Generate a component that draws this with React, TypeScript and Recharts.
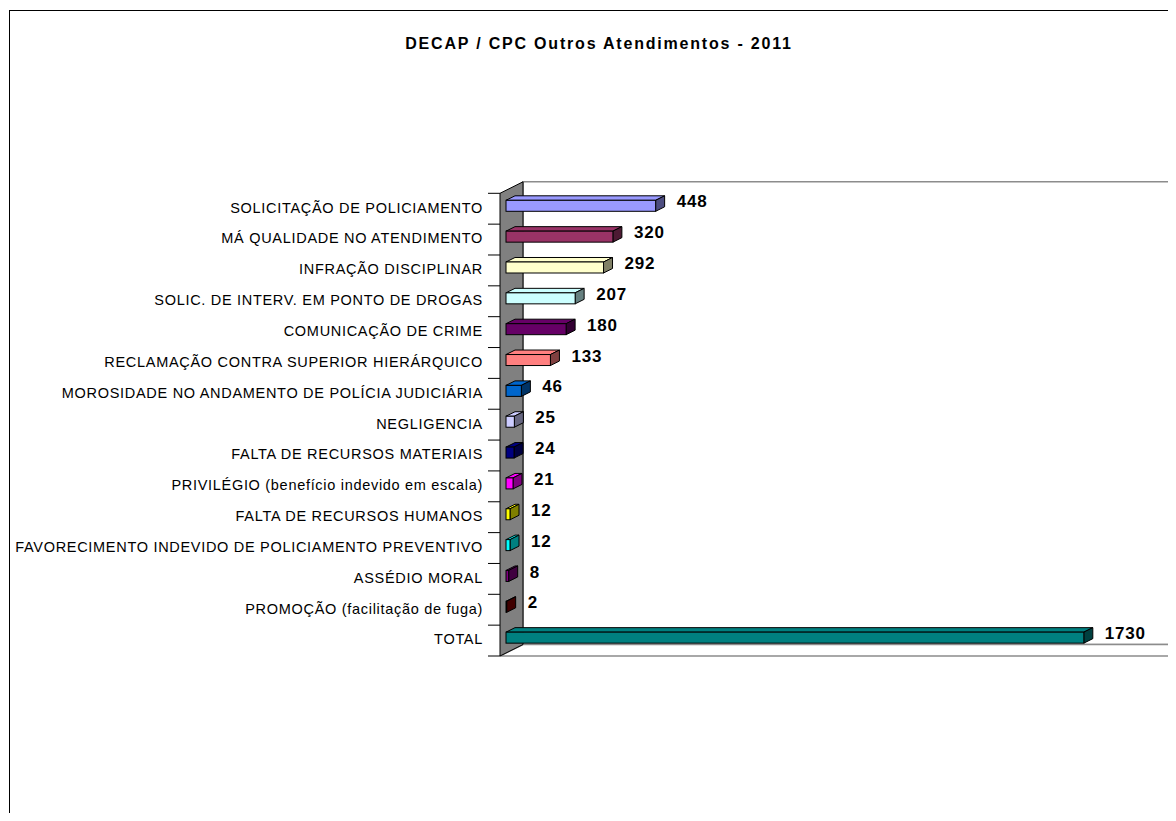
import React from 'react';
import { BarChart, Bar, XAxis, YAxis, Cell, LabelList } from 'recharts';

const categories = [
  'SOLICITAÇÃO DE POLICIAMENTO',
  'MÁ QUALIDADE NO ATENDIMENTO',
  'INFRAÇÃO DISCIPLINAR',
  'SOLIC. DE INTERV. EM PONTO DE DROGAS',
  'COMUNICAÇÃO DE CRIME',
  'RECLAMAÇÃO CONTRA SUPERIOR HIERÁRQUICO',
  'MOROSIDADE NO ANDAMENTO DE POLÍCIA JUDICIÁRIA',
  'NEGLIGENCIA',
  'FALTA DE RECURSOS MATERIAIS',
  'PRIVILÉGIO (benefício indevido em escala)',
  'FALTA DE RECURSOS HUMANOS',
  'FAVORECIMENTO INDEVIDO DE POLICIAMENTO PREVENTIVO',
  'ASSÉDIO MORAL',
  'PROMOÇÃO (facilitação de fuga)',
  'TOTAL',
];

const values = [448, 320, 292, 207, 180, 133, 46, 25, 24, 21, 12, 12, 8, 2, 1730];

const colors = [
  '#9999FF', '#993366', '#FFFFCC', '#CCFFFF', '#660066',
  '#FF8080', '#0066CC', '#CCCCFF', '#000080', '#FF00FF',
  '#FFFF00', '#00FFFF', '#800080', '#800000', '#008080',
];

const title = 'DECAP / CPC Outros Atendimentos - 2011';
const xDomain = [0, 2000];

const rows = categories.map((name, i) => ({ name, value: values[i] }));

// layout constants
const W = 1168;
const H = 805;
const BG_H = 813;
const PLOT_LEFT = 492;
const PLOT_TOP = 185.3;
const PLOT_W = 668;
const PLOT_H = 462.7;
const WALL_DX = 23;
const WALL_DY = -11.5;
const BAR_D0X = 6, BAR_D0Y = -3;
const BAR_D1X = 15, BAR_D1Y = -7.5;
const BAND = PLOT_H / categories.length;
const FONT = '"Liberation Sans", Arial, Helvetica, sans-serif';

function darken(hex: string, f: number) {
  const n = parseInt(hex.slice(1), 16);
  const r = Math.round(((n >> 16) & 255) * f);
  const g = Math.round(((n >> 8) & 255) * f);
  const b = Math.round((n & 255) * f);
  return `rgb(${r},${g},${b})`;
}

const Box3D = (props: any) => {
  const { x, y, width, height, index } = props;
  const fill = colors[index] || props.fill;
  const w = Math.max(width, 0);
  const fx = x + BAR_D0X, fy = y + BAR_D0Y;
  const bx = x + BAR_D1X, by = y + BAR_D1Y;
  const top = `${fx},${fy} ${fx + w},${fy} ${bx + w},${by} ${bx},${by}`;
  const side = `${fx + w},${fy} ${bx + w},${by} ${bx + w},${by + height} ${fx + w},${fy + height}`;
  return (
    <g>
      <polygon points={top} fill={fill} stroke="#000" strokeWidth={1} strokeLinejoin="round" />
      <polygon points={side} fill={darken(fill, 0.5)} stroke="#000" strokeWidth={1} strokeLinejoin="round" />
      <rect x={fx} y={fy} width={w} height={height} fill={fill} stroke="#000" strokeWidth={1} />
    </g>
  );
};

const ValueLabel = (props: any) => {
  const { x, y, width, value } = props;
  return (
    <text
      x={x + width + BAR_D1X + 12}
      y={y + 4.1}
      fontFamily={FONT}
      fontWeight="bold"
      fontSize={17}
      style={{ letterSpacing: 0.8 }}
      fill="#000"
    >
      {value}
    </text>
  );
};

const CategoryTick = (props: any) => {
  const { x, y, payload, index } = props;
  const last = index === categories.length - 1;
  return (
    <g>
      <line x1={x - 12} x2={x} y1={y - BAND / 2} y2={y - BAND / 2} stroke="#000" strokeWidth={1} />
      {last && (
        <line x1={x - 12} x2={x} y1={y + BAND / 2} y2={y + BAND / 2} stroke="#000" strokeWidth={1} />
      )}
      <text
        x={x - 17}
        y={y - 1.3 + 5.2}
        textAnchor="end"
        fontFamily={FONT}
        fontSize={14.5}
        style={{ letterSpacing: 0.7 }}
        fill="#000"
      >
        {payload.value}
      </text>
    </g>
  );
};

const Background = () => {
  const L = PLOT_LEFT, T = PLOT_TOP, R = PLOT_LEFT + PLOT_W, B = PLOT_TOP + PLOT_H;
  const backWall = `${L + WALL_DX},${T + WALL_DY} ${R + WALL_DX},${T + WALL_DY} ${R + WALL_DX},${B + WALL_DY} ${L + WALL_DX},${B + WALL_DY}`;
  const floor = `${L},${B} ${R},${B} ${R + WALL_DX},${B + WALL_DY} ${L + WALL_DX},${B + WALL_DY}`;
  const sideWall = `${L},${T} ${L + WALL_DX},${T + WALL_DY} ${L + WALL_DX},${B + WALL_DY} ${L},${B}`;
  return (
    <svg width={W} height={BG_H} style={{ position: 'absolute', left: 0, top: 0 }}>
      <rect x={1.5} y={2.5} width={1300} height={1000} fill="#fff" stroke="#000" strokeWidth={1} />
      <text
        x={591}
        y={40.7}
        textAnchor="middle"
        fontFamily={FONT}
        fontWeight="bold"
        fontSize={16}
        style={{ letterSpacing: 1.8 }}
        fill="#000"
      >
        {title}
      </text>
      <polygon points={backWall} fill="#fff" stroke="#8c8c8c" strokeWidth={1.5} />
      <polygon points={floor} fill="#fff" stroke="#8c8c8c" strokeWidth={1.5} />
      <polygon points={sideWall} fill="#808080" stroke="#000" strokeWidth={1} />
    </svg>
  );
};

export default function App() {
  return (
    <div style={{ position: 'relative', width: W, height: H }}>
      <Background />
      <div style={{ position: 'absolute', left: 0, top: 0 }}>
        <BarChart
          width={W}
          height={H}
          layout="vertical"
          data={rows}
          margin={{ top: PLOT_TOP, right: W - PLOT_LEFT - PLOT_W, bottom: H - PLOT_TOP - PLOT_H, left: 12 }}
        >
          <XAxis type="number" domain={xDomain} hide />
          <YAxis
            type="category"
            dataKey="name"
            width={PLOT_LEFT - 12}
            axisLine={false}
            tickLine={false}
            tickSize={0}
            tickMargin={0}
            interval={0}
            tick={<CategoryTick />}
          />
          <Bar dataKey="value" barSize={11} isAnimationActive={false} shape={(p: any) => <Box3D {...p} />}>
            {rows.map((r, i) => (
              <Cell key={r.name} fill={colors[i]} />
            ))}
            <LabelList dataKey="value" content={<ValueLabel />} />
          </Bar>
        </BarChart>
      </div>
    </div>
  );
}
